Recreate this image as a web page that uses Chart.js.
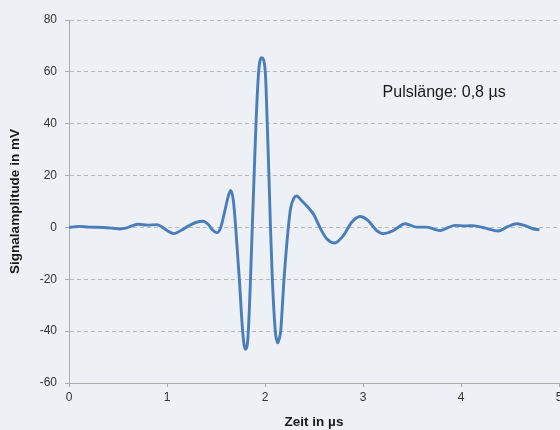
<!DOCTYPE html>
<html><head><meta charset="utf-8">
<script src="https://cdn.jsdelivr.net/npm/chart.js@4/dist/chart.umd.min.js"></script>
<style>
html,body{margin:0;padding:0;overflow:hidden;background:#edf0f4;width:560px;height:430px}
#wrap{position:absolute;left:0;top:0;width:580px;height:430px}
</style></head><body>
<div id="wrap"><canvas id="c" width="580" height="430"></canvas></div>
<script>
// Zeit in µs
const timeUs = [
  0.00, 0.05, 0.11, 0.20, 0.35, 0.45, 0.52, 0.58, 0.64, 0.71,
  0.80, 0.895, 0.95, 1.00, 1.07, 1.14, 1.22, 1.30, 1.37, 1.42,
  1.46, 1.51, 1.548, 1.595, 1.625, 1.65, 1.677, 1.701, 1.738, 1.772,
  1.788, 1.803, 1.818, 1.830, 1.852, 1.870, 1.889, 1.908, 1.935,
  1.966, 2.003, 2.023, 2.040, 2.056, 2.075, 2.105, 2.118, 2.130,
  2.143, 2.160, 2.194, 2.238, 2.262, 2.295, 2.323,
  2.37, 2.45, 2.50, 2.56, 2.63, 2.71, 2.80, 2.885, 2.97, 3.05,
  3.14, 3.21, 3.31, 3.43, 3.55, 3.65, 3.72, 3.79, 3.86, 3.94,
  4.05, 4.12, 4.25, 4.38, 4.47, 4.57, 4.66, 4.74, 4.80
];
// Signalamplitude in mV
const amplitudeMv = [
  0.0, 0.2, 0.4, 0.1, 0.0, -0.3, -0.6, -0.3, 0.6, 1.2,
  0.9, 1.1, 0.2, -1.2, -2.4, -1.2, 0.6, 2.0, 2.4, 1.2,
  -0.8, -2.0, 0.0, 7.2, 12.0, 14.3, 10.4, 0.0, -20, -40,
  -45.5, -47, -45.5, -40, -20, 0, 20, 40, 60,
  65.5, 60, 40, 20, 0, -20, -40, -43.3, -44.5,
  -43.3, -40, -20, 0, 7.5, 11.3, 12.1,
  10.5, 7.3, 4.8, 0.0, -4.4, -6.0, -3.1, 2.0, 4.2, 2.7,
  -1.2, -2.4, -1.2, 1.4, 0.1, 0.1, -0.6, -1.2, -0.2, 0.8,
  0.6, 0.7, -0.3, -1.4, 0.2, 1.4, 0.6, -0.6, -0.9
];
const xTickValues = [0, 1, 2, 3, 4, 5];
const yTickValues = [-60, -40, -20, 0, 20, 40, 60, 80];
const xTitle = 'Zeit in µs';
const yTitle = 'Signalamplitude in mV';
const noteText = 'Pulslänge: 0,8 µs';
const notePos = [3.2, 50.2];

const FONT = '"Liberation Sans", Arial, sans-serif';
const points = timeUs.map((t, i) => ({x: t, y: amplitudeMv[i]}));

const notePlugin = {
  id: 'note',
  afterDraw(chart) {
    const {ctx, scales} = chart;
    ctx.save();
    ctx.font = '16px ' + FONT;
    ctx.fillStyle = '#1a1a1a';
    ctx.textAlign = 'left';
    ctx.textBaseline = 'alphabetic';
    ctx.fillText(noteText, scales.x.getPixelForValue(notePos[0]), scales.y.getPixelForValue(notePos[1]));
    ctx.restore();
  }
};

new Chart(document.getElementById('c'), {
  type: 'line',
  data: {
    datasets: [{
      data: points,
      borderColor: '#4a7ebb',
      borderWidth: 2.9,
      pointRadius: 0,
      cubicInterpolationMode: 'monotone',
      fill: false
    }]
  },
  options: {
    responsive: false,
    animation: false,
    layout: {padding: {top: 20, right: 21, left: 0, bottom: 0}},
    plugins: {legend: {display: false}, tooltip: {enabled: false}},
    scales: {
      x: {
        type: 'linear', min: 0, max: 5,
        afterBuildTicks: s => { s.ticks = xTickValues.map(v => ({value: v})); },
        afterFit: s => { s.height = 47; },
        grid: {drawOnChartArea: false, drawTicks: true, tickLength: 4, color: '#adadad'},
        border: {display: true, color: '#adadad', width: 1},
        ticks: {font: {family: FONT, size: 12}, color: '#333333', padding: 3, maxRotation: 0},
        title: {display: true, text: xTitle, font: {family: FONT, size: 13.5, weight: 'bold'}, color: '#1a1a1a', padding: {top: 0, bottom: 0}}
      },
      y: {
        type: 'linear', min: -60, max: 80,
        afterBuildTicks: s => { s.ticks = yTickValues.map(v => ({value: v})); },
        afterFit: s => { s.width = 69; },
        grid: {drawTicks: true, tickLength: 4, color: '#b8b8b8', tickColor: '#adadad', tickBorderDash: []},
        border: {display: true, color: '#adadad', width: 1, dash: [4, 3]},
        ticks: {font: {family: FONT, size: 12}, color: '#333333', padding: 8},
        title: {display: true, text: yTitle, font: {family: FONT, size: 13.5, weight: 'bold'}, color: '#1a1a1a', padding: {top: 7, bottom: 0}}
      }
    }
  },
  plugins: [notePlugin]
});
</script>
</body></html>
